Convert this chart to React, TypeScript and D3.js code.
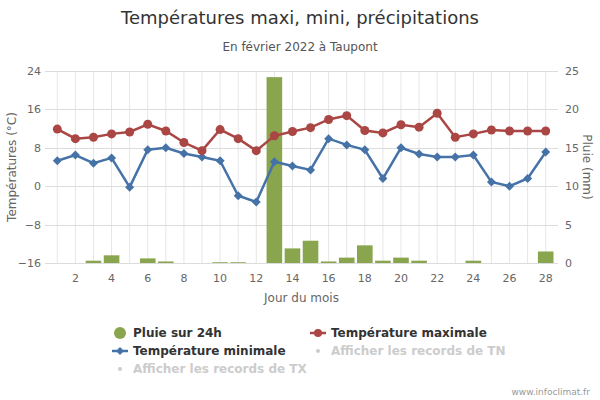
import React, { useEffect, useRef } from 'react';
import * as d3 from 'd3';

const days = d3.range(1, 29);
const tmax = [11.9, 9.9, 10.2, 10.9, 11.3, 12.9, 11.5, 9.1, 7.4, 11.8, 9.9, 7.4, 10.5, 11.4,
  12.2, 13.9, 14.7, 11.6, 11.1, 12.8, 12.3, 15.2, 10.2, 10.9, 11.7, 11.5, 11.5, 11.5];
const tmin = [5.3, 6.5, 4.8, 5.9, -0.2, 7.6, 8.0, 6.8, 6.1, 5.3, -2.0, -3.3, 5.1, 4.2,
  3.4, 9.9, 8.6, 7.6, 1.6, 8.0, 6.7, 6.1, 6.1, 6.5, 0.9, 0.0, 1.6, 7.1];
const rain = [0, 0, 0.3, 1.0, 0, 0.6, 0.2, 0, 0, 0.1, 0.1, 0, 24.2, 1.9,
  2.9, 0.2, 0.7, 2.3, 0.3, 0.7, 0.3, 0, 0, 0.3, 0, 0, 0, 1.5];
const tempTicks = [-16, -8, 0, 8, 16, 24];
const rainTicks = [0, 5, 10, 15, 20, 25];
const dayTicks = [2, 4, 6, 8, 10, 12, 14, 16, 18, 20, 22, 24, 26, 28];

const BLUE = '#4572A7';
const RED = '#AA4643';
const GREEN = '#89A54E';
const FONT = '"DejaVu Sans", sans-serif';

const App: React.FC = () => {
  const svgRef = useRef<SVGSVGElement>(null);
  const width = 600;
  const height = 400;
  const plot = { left: 45, right: 558, top: 71, bottom: 263 };

  useEffect(() => {
    document.body.style.margin = '0';
    if (!svgRef.current) return;
    const svg = d3.select(svgRef.current);
    svg.selectAll('*').remove();
    svg.style('font-family', FONT);

    const x = d3.scaleLinear().domain([0.32, 28.68]).range([plot.left, plot.right]);
    const yT = d3.scaleLinear().domain([-16, 24]).range([plot.bottom, plot.top]);
    const yR = d3.scaleLinear().domain([0, 25]).range([plot.bottom, plot.top]);

    // grid
    const grid = svg.append('g');
    grid.selectAll('.vg')
      .data(days)
      .enter()
      .append('line')
      .attr('x1', d => x(d)).attr('x2', d => x(d))
      .attr('y1', plot.top).attr('y2', plot.bottom)
      .attr('stroke', '#e6e6e6').attr('stroke-width', 1);
    grid.selectAll('.hg')
      .data(tempTicks)
      .enter()
      .append('line')
      .attr('x1', plot.left).attr('x2', plot.right)
      .attr('y1', d => Math.round(yT(d)) + 0.5).attr('y2', d => Math.round(yT(d)) + 0.5)
      .attr('stroke', '#dcdcdc').attr('stroke-width', 1);

    // rain bars
    const bw = 15.6;
    svg.append('g')
      .selectAll('rect')
      .data(rain.map((v, i) => ({ day: days[i], v })).filter(d => d.v > 0))
      .enter()
      .append('rect')
      .attr('x', d => x(d.day) - bw / 2)
      .attr('width', bw)
      .attr('y', d => yR(d.v))
      .attr('height', d => plot.bottom - yR(d.v))
      .attr('fill', GREEN);

    // lines
    const lineT = d3.line<number>().x((_, i) => x(days[i])).y(d => yT(d));
    svg.append('path').datum(tmin).attr('d', lineT)
      .attr('fill', 'none').attr('stroke', BLUE).attr('stroke-width', 2.5);
    svg.append('path').datum(tmax).attr('d', lineT)
      .attr('fill', 'none').attr('stroke', RED).attr('stroke-width', 2.5);

    const diamond = (cx: number, cy: number, r: number) =>
      `M${cx},${cy - r}L${cx + r},${cy}L${cx},${cy + r}L${cx - r},${cy}Z`;

    svg.append('g').selectAll('path')
      .data(tmin)
      .enter()
      .append('path')
      .attr('d', (d, i) => diamond(x(days[i]), yT(d), 4.5))
      .attr('fill', BLUE);
    svg.append('g').selectAll('circle')
      .data(tmax)
      .enter()
      .append('circle')
      .attr('cx', (_, i) => x(days[i]))
      .attr('cy', d => yT(d))
      .attr('r', 4.5)
      .attr('fill', RED);

    // axes labels
    svg.append('g').selectAll('text')
      .data(tempTicks)
      .enter()
      .append('text')
      .attr('x', 41).attr('y', d => yT(d) + 4)
      .attr('text-anchor', 'end')
      .style('font-size', '11px').style('fill', '#666')
      .text(d => (d < 0 ? '\u2212' + Math.abs(d) : String(d)));
    svg.append('g').selectAll('text')
      .data(rainTicks)
      .enter()
      .append('text')
      .attr('x', 565).attr('y', d => yR(d) + 4)
      .attr('text-anchor', 'start')
      .style('font-size', '11px').style('fill', '#666')
      .text(d => String(d));
    svg.append('g').selectAll('text')
      .data(dayTicks)
      .enter()
      .append('text')
      .attr('x', d => x(d)).attr('y', 282)
      .attr('text-anchor', 'middle')
      .style('font-size', '11px').style('fill', '#666')
      .text(d => String(d));

    svg.append('text')
      .attr('transform', `translate(16,${(plot.top + plot.bottom) / 2}) rotate(-90)`)
      .attr('text-anchor', 'middle')
      .style('font-size', '12px').style('fill', '#666')
      .text('Températures (°C)');
    svg.append('text')
      .attr('transform', `translate(583,${(plot.top + plot.bottom) / 2}) rotate(90)`)
      .attr('text-anchor', 'middle')
      .style('font-size', '12px').style('fill', '#666')
      .text('Pluie (mm)');
    svg.append('text')
      .attr('x', (plot.left + plot.right) / 2).attr('y', 302)
      .attr('text-anchor', 'middle')
      .style('font-size', '12px').style('fill', '#666')
      .text('Jour du mois');

    // titles
    svg.append('text')
      .attr('x', width / 2).attr('y', 24)
      .attr('text-anchor', 'middle')
      .style('font-size', '18px').style('fill', '#333')
      .text('Températures maxi, mini, précipitations');
    svg.append('text')
      .attr('x', width / 2).attr('y', 51)
      .attr('text-anchor', 'middle')
      .style('font-size', '12px').style('fill', '#555')
      .text('En février 2022 à Taupont');

    // legend
    const lg = svg.append('g').style('font-size', '12px').style('font-weight', 'bold');
    lg.append('circle').attr('cx', 120).attr('cy', 333).attr('r', 6).attr('fill', GREEN);
    lg.append('text').attr('x', 133).attr('y', 337).style('fill', '#333').text('Pluie sur 24h');

    lg.append('line').attr('x1', 310).attr('x2', 326).attr('y1', 333).attr('y2', 333)
      .attr('stroke', RED).attr('stroke-width', 2.5);
    lg.append('circle').attr('cx', 318).attr('cy', 333).attr('r', 4).attr('fill', RED);
    lg.append('text').attr('x', 331).attr('y', 337).style('fill', '#333').text('Température maximale');

    lg.append('line').attr('x1', 112).attr('x2', 128).attr('y1', 351).attr('y2', 351)
      .attr('stroke', BLUE).attr('stroke-width', 2.5);
    lg.append('path').attr('d', diamond(120, 351, 4)).attr('fill', BLUE);
    lg.append('text').attr('x', 133).attr('y', 355).style('fill', '#333').text('Température minimale');

    lg.append('circle').attr('cx', 318).attr('cy', 351).attr('r', 2).attr('fill', '#ccc');
    lg.append('text').attr('x', 331).attr('y', 355).style('fill', '#ccc').text('Afficher les records de TN');
    lg.append('circle').attr('cx', 120).attr('cy', 369).attr('r', 2).attr('fill', '#ccc');
    lg.append('text').attr('x', 133).attr('y', 373).style('fill', '#ccc').text('Afficher les records de TX');

    svg.append('text')
      .attr('x', 590).attr('y', 395)
      .attr('text-anchor', 'end')
      .style('font-size', '9px').style('fill', '#999')
      .text('www.infoclimat.fr');
  }, []);

  return <svg ref={svgRef} width={width} height={height} style={{ display: 'block' }} />;
};

export default App;
